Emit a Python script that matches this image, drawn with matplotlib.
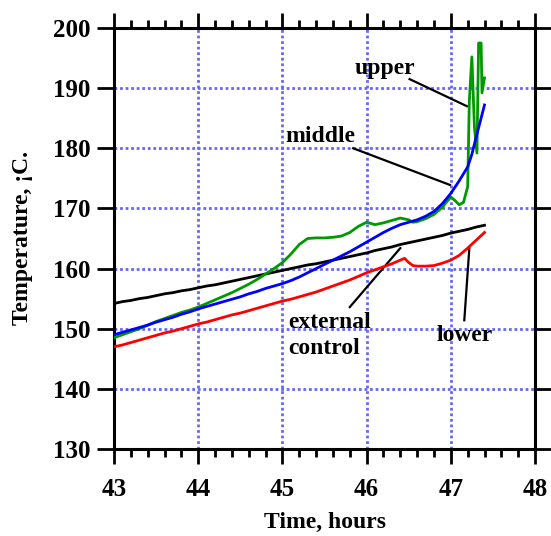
import matplotlib.pyplot as plt
import numpy as np

plt.rcParams['font.family'] = ['Liberation Serif', 'DejaVu Serif']
plt.rcParams['font.weight'] = 'bold'

# data (time in hours, temperature)
t_ext = [43.0, 43.1, 43.2, 43.3, 43.4, 43.5, 43.6, 43.7, 43.8, 43.9, 44.0, 44.1, 44.2, 44.3, 44.4,
         44.5, 44.6, 44.7, 44.8, 44.9, 45.0, 45.1, 45.2, 45.3, 45.4, 45.5, 45.6, 45.7, 45.8, 45.9,
         46.0, 46.1, 46.2, 46.3, 46.4, 46.5, 46.6, 46.7, 46.8, 46.9, 47.0, 47.1, 47.2, 47.3, 47.4]
ext_control = [154.2, 154.5, 154.7, 155.0, 155.2, 155.5, 155.8, 156.0, 156.3, 156.5, 156.8, 157.1,
               157.3, 157.6, 157.9, 158.2, 158.5, 158.8, 159.1, 159.4, 159.7, 160.0, 160.3, 160.6,
               160.8, 161.1, 161.4, 161.7, 162.0, 162.3, 162.6, 163.0, 163.3, 163.6, 164.0, 164.3,
               164.6, 164.9, 165.2, 165.5, 165.9, 166.2, 166.5, 166.9, 167.2]

t_lower = [43.0, 43.1, 43.2, 43.3, 43.4, 43.5, 43.6, 43.7, 43.8, 43.9, 44.0, 44.1, 44.2, 44.3, 44.4,
           44.5, 44.6, 44.7, 44.8, 44.9, 45.0, 45.1, 45.2, 45.3, 45.4, 45.5, 45.6, 45.7, 45.8, 45.9,
           46.0, 46.1, 46.2, 46.3, 46.4, 46.45, 46.5, 46.55, 46.6, 46.7, 46.8, 46.9, 47.0, 47.1,
           47.2, 47.3, 47.4]
lower = [147.0, 147.3, 147.7, 148.1, 148.5, 148.9, 149.3, 149.6, 150.0, 150.4, 150.8, 151.1, 151.5,
         151.9, 152.3, 152.6, 153.0, 153.4, 153.8, 154.2, 154.6, 154.9, 155.3, 155.7, 156.1, 156.6,
         157.1, 157.6, 158.1, 158.7, 159.3, 159.8, 160.3, 160.8, 161.4, 161.7, 161.0, 160.5, 160.4,
         160.4, 160.5, 160.9, 161.4, 162.2, 163.4, 164.7, 166.0]

t_middle = [43.0, 43.1, 43.2, 43.3, 43.4, 43.5, 43.6, 43.7, 43.8, 43.9, 44.0, 44.1, 44.2, 44.3, 44.4,
            44.5, 44.6, 44.7, 44.8, 44.9, 45.0, 45.1, 45.2, 45.3, 45.4, 45.5, 45.6, 45.7, 45.8, 45.9,
            46.0, 46.1, 46.2, 46.3, 46.4, 46.5, 46.6, 46.7, 46.8, 46.9, 47.0, 47.1, 47.2, 47.25,
            47.3, 47.35, 47.4]
middle = [149.0, 149.4, 149.8, 150.2, 150.6, 151.1, 151.5, 151.9, 152.4, 152.8, 153.3, 153.7, 154.1,
          154.5, 154.9, 155.3, 155.8, 156.2, 156.7, 157.1, 157.5, 158.0, 158.6, 159.3, 160.0, 160.7,
          161.4, 162.1, 162.8, 163.6, 164.4, 165.2, 166.0, 166.7, 167.3, 167.7, 168.1, 168.7, 169.5,
          170.8, 172.5, 174.6, 176.9, 179.0, 181.8, 184.5, 187.2]

t_upper = [43.0, 43.1, 43.2, 43.3, 43.4, 43.5, 43.6, 43.7, 43.8, 43.9, 44.0, 44.1, 44.2, 44.3, 44.4,
           44.5, 44.6, 44.7, 44.8, 44.9, 45.0, 45.1, 45.2, 45.3, 45.4, 45.5, 45.6, 45.7, 45.8, 45.9,
           46.0, 46.1, 46.2, 46.3, 46.4, 46.5, 46.55, 46.6, 46.7, 46.8, 46.9, 46.95, 47.0, 47.05,
           47.1, 47.15, 47.2, 47.22, 47.25, 47.28, 47.31, 47.33, 47.36, 47.37, 47.4]
upper = [148.5, 149.0, 149.5, 150.0, 150.6, 151.2, 151.7, 152.2, 152.7, 153.1, 153.6, 154.2, 154.8,
         155.4, 156.0, 156.7, 157.4, 158.2, 159.1, 160.0, 161.0, 162.4, 164.0, 165.0, 165.1, 165.1,
         165.2, 165.4, 166.0, 167.0, 167.7, 167.3, 167.6, 168.0, 168.4, 168.1, 167.7, 167.8, 168.3,
         169.0, 170.2, 171.1, 171.9, 171.3, 170.6, 171.0, 173.6, 188.0, 195.2, 183.5, 179.2, 197.5,
         197.5, 189.2, 191.7]

fig = plt.figure(figsize=(5.51, 5.36), dpi=100)
ax = fig.add_axes([0.207, 0.1623, 0.764, 0.7855])

ax.plot(t_ext, ext_control, color='black', lw=2, zorder=3)
ax.plot(t_lower, lower, color='#ff0000', lw=2, zorder=3)
ax.plot(t_upper, upper, color='#009900', lw=2, zorder=3)
ax.plot(t_middle, middle, color='#0000ff', lw=2, zorder=4)

ax.set_xlim(43, 48)
ax.set_ylim(130, 200)
ax.set_xticks(np.arange(43, 49, 1))
ax.set_xticks(np.arange(43, 48.01, 0.2), minor=True)
ax.set_yticks(np.arange(130, 201, 10))

ax.grid(True, which='major', color='#6666ff', linestyle=(0, (1, 1)), lw=2)
ax.set_axisbelow(True)

for s in ax.spines.values():
    s.set_linewidth(2.2)

ax.tick_params(axis='x', which='both', direction='out', top=True, bottom=True, width=2)
ax.tick_params(axis='x', which='major', length=11, pad=10, labelsize=18)
ax.tick_params(axis='x', which='minor', length=6)
ax.tick_params(axis='y', which='major', direction='out', left=True, right=True,
               length=12, width=2, pad=5, labelsize=18)

ax.set_xlabel('Time, hours', fontsize=17, fontweight='bold', labelpad=8)
ax.set_ylabel('Temperature, ¡C.', fontsize=17, fontweight='bold', labelpad=14)

# annotations
ax.text(46.22, 193.3, 'upper', fontsize=17, fontweight='bold', ha='center', va='center')
ax.plot([46.51, 47.19], [191.5, 187.0], color='black', lw=1.6)
ax.text(45.07, 148.9, 'external\ncontrol', fontsize=17, fontweight='bold', ha='left', va='center',
        linespacing=1.3)
ax.plot([45.80, 46.40], [153.6, 163.4], color='black', lw=1.6)
ax.text(45.03, 181.9, 'middle', fontsize=17, fontweight='bold', ha='left', va='center')
ax.plot([45.84, 46.99], [180.0, 173.9], color='black', lw=1.6)
ax.text(47.17, 148.8, 'lower', fontsize=17, fontweight='bold', ha='center', va='center')
ax.plot([47.16, 47.22], [151.4, 163.4], color='black', lw=1.6)

fig.savefig('out.png', dpi=100)
